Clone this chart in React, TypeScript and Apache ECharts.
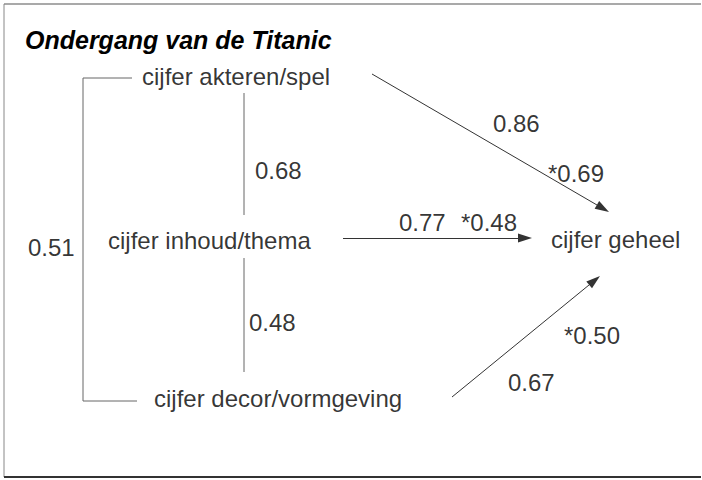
import React, { useEffect, useRef } from "react";
import * as echarts from "echarts";

// ---- data ----
const title = "Ondergang van de Titanic";
const nodeNames = [
  "cijfer akteren/spel",
  "cijfer inhoud/thema",
  "cijfer decor/vormgeving",
  "cijfer geheel",
];
// correlations between predictors: akteren-inhoud, inhoud-decor, akteren-decor
const correlations = [0.68, 0.48, 0.51];
// paths to "cijfer geheel": correlation r and standardized beta (*)
const pathR = [0.86, 0.77, 0.67];
const pathBeta = [0.69, 0.48, 0.5];

// ---- layout (pixel space of a 702x480 canvas) ----
const nodePos = [
  [142, 76],
  [108, 240],
  [154, 398],
  [551, 239],
];
const corrLabelPos = [
  [255, 170],
  [249, 322],
  [28, 247],
];
const rLabelPos = [
  [493, 123],
  [399, 222],
  [508, 382],
];
const betaLabelPos = [
  [548, 173],
  [461, 222],
  [564, 335],
];
const arrowPaths = [
  [[372, 74], [609, 212]],
  [[343, 238], [532, 238]],
  [[452, 397], [600, 276]],
];
const connectorPaths = [
  [[132, 78], [83, 78], [83, 401], [137, 401]],
  [[244, 93], [244, 215]],
  [[244, 258], [244, 372]],
];

const FONT = "'Liberation Sans', Arial, Helvetica, sans-serif";
const ARROW_SIZE = 14;
const ARROW_PATH = "path://M0,0M14,14M7,0L11.5,14L2.5,14Z";

function shorten(p: number[][], by: number) {
  const [a, b] = p;
  const dx = b[0] - a[0];
  const dy = b[1] - a[1];
  const len = Math.sqrt(dx * dx + dy * dy);
  return [a, [b[0] - (dx / len) * by, b[1] - (dy / len) * by]];
}

export default function App() {
  const ref = useRef<HTMLDivElement>(null);
  useEffect(() => {
    document.body.style.margin = "0";
    const chart = echarts.init(ref.current!, null, { renderer: "svg" });

    const textLabel = (fs: number) => ({
      show: true,
      position: [0, 0],
      align: "left",
      verticalAlign: "middle",
      formatter: "{b}",
      color: "#000",
      fontSize: fs,
      fontFamily: FONT,
    });

    const coefData: any[] = [];
    correlations.forEach((v, i) =>
      coefData.push({ name: v.toFixed(2), value: corrLabelPos[i] })
    );
    pathR.forEach((v, i) =>
      coefData.push({ name: v.toFixed(2), value: rLabelPos[i] })
    );
    pathBeta.forEach((v, i) =>
      coefData.push({ name: "*" + v.toFixed(2), value: betaLabelPos[i] })
    );

    chart.setOption({
      animation: false,
      backgroundColor: "#fff",
      title: {
        text: title,
        left: 25,
        top: 27,
        padding: 0,
        textStyle: {
          fontSize: 25,
          fontWeight: "bold",
          fontStyle: "italic",
          fontFamily: FONT,
          color: "#000",
        },
      },
      grid: { left: 0, right: 0, top: 0, bottom: 0 },
      xAxis: { type: "value", min: 0, max: 702, show: false },
      yAxis: { type: "value", min: 0, max: 480, inverse: true, show: false },
      graphic: [
        { type: "line", shape: { x1: 4, y1: 4, x2: 701, y2: 4 }, style: { stroke: "#555", lineWidth: 1.2 } },
        { type: "line", shape: { x1: 4, y1: 4, x2: 4, y2: 477 }, style: { stroke: "#888", lineWidth: 1 } },
        { type: "line", shape: { x1: 4, y1: 477, x2: 701, y2: 477 }, style: { stroke: "#333", lineWidth: 2 } },
      ],
      series: [
        {
          type: "lines",
          coordinateSystem: "cartesian2d",
          polyline: true,
          symbol: ["none", "none"],
          lineStyle: { color: "#666", width: 1, opacity: 1 },
          data: connectorPaths.map((p) => ({ coords: p })),
          silent: true,
        },
        {
          type: "lines",
          coordinateSystem: "cartesian2d",
          symbol: ["none", ARROW_PATH],
          symbolSize: ARROW_SIZE,
          lineStyle: { color: "#333", width: 1, opacity: 1 },
          itemStyle: { color: "#222" },
          data: arrowPaths.map((p) => ({ coords: shorten(p, ARROW_SIZE / 2) })),
          silent: true,
        },
        {
          type: "scatter",
          symbolSize: 0,
          silent: true,
          label: textLabel(24),
          data: nodeNames.map((n, i) => ({ name: n, value: nodePos[i] })),
        },
        {
          type: "scatter",
          symbolSize: 0,
          silent: true,
          label: textLabel(24),
          data: coefData,
        },
      ],
    });
    return () => chart.dispose();
  }, []);
  return <div ref={ref} style={{ width: 702, height: 480 }} />;
}
